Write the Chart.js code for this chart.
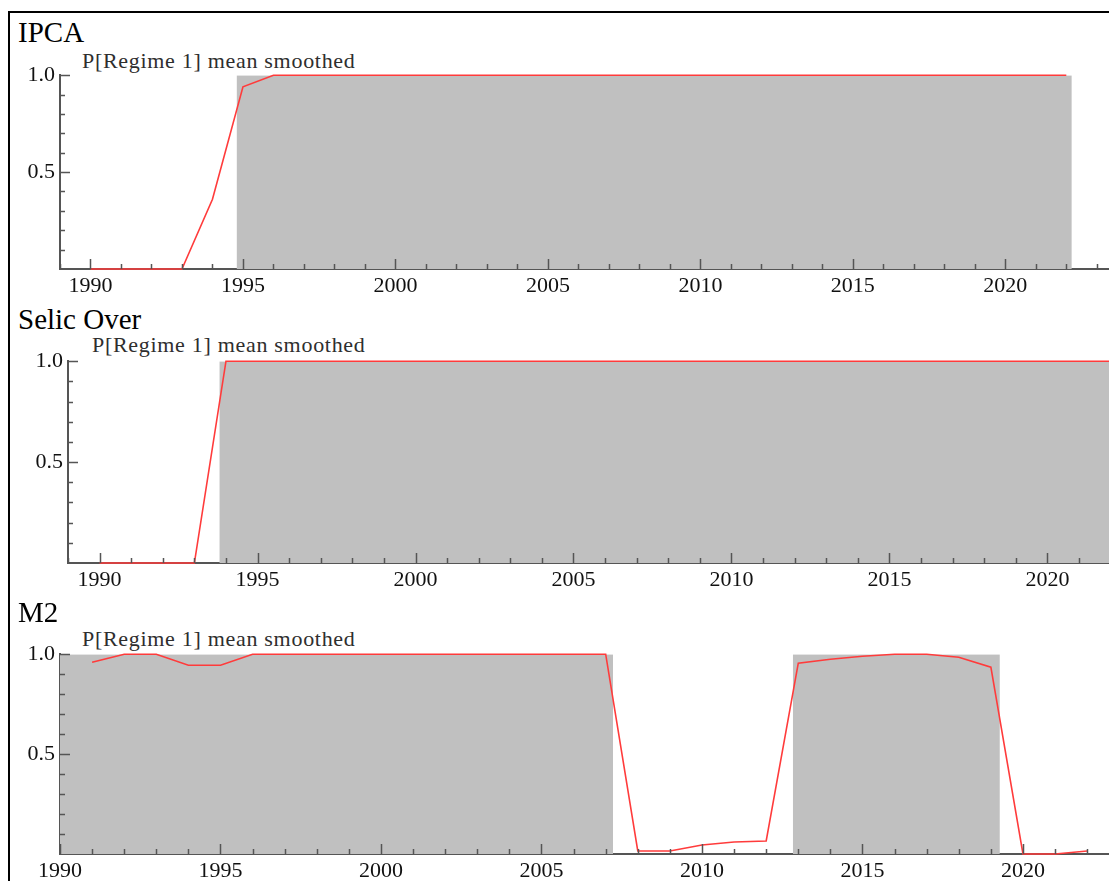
<!DOCTYPE html>
<html>
<head>
<meta charset="utf-8">
<script src="https://cdn.jsdelivr.net/npm/chart.js@4.4.1/dist/chart.umd.min.js"></script>
<style>
  body { margin: 0; background: #fff; width: 1109px; height: 881px; overflow: hidden; position: relative; font-family: "Liberation Serif", "Times New Roman", serif; }
  .frame { position: absolute; left: 8px; top: 11px; width: 1300px; height: 1000px; border-left: 2px solid #000; border-top: 2px solid #000; }
  .title { position: absolute; left: 18px; font-family: "Liberation Serif", serif; font-size: 29px; line-height: 1; color: #000; white-space: nowrap; }
  .sub { position: absolute; font-family: "Liberation Serif", serif; font-size: 22px; line-height: 1; letter-spacing: 0.7px; color: #2e2e2e; white-space: nowrap; }
  canvas { position: absolute; left: 0; }
</style>
</head>
<body>
<div class="frame"></div>

<div class="title" style="top:18px">IPCA</div>
<div class="sub" style="left:82px;top:50px">P[Regime 1] mean smoothed</div>
<canvas id="ipcaChart" width="1109" height="246" style="top:57px"></canvas>

<div class="title" style="top:305px">Selic Over</div>
<div class="sub" style="left:92px;top:334px">P[Regime 1] mean smoothed</div>
<canvas id="selicChart" width="1109" height="254" style="top:343px"></canvas>

<div class="title" style="top:598px">M2</div>
<div class="sub" style="left:82px;top:628px">P[Regime 1] mean smoothed</div>
<canvas id="m2Chart" width="1109" height="252" style="top:636px"></canvas>

<script>
// Annual smoothed probabilities of regime 1
const years = [1990, 1991, 1992, 1993, 1994, 1995, 1996, 1997, 1998, 1999, 2000,
  2001, 2002, 2003, 2004, 2005, 2006, 2007, 2008, 2009, 2010, 2011,
  2012, 2013, 2014, 2015, 2016, 2017, 2018, 2019, 2020, 2021, 2022];

const ipcaProb = [0, 0, 0, 0, 0.36, 0.94, 1, 1, 1, 1, 1,
  1, 1, 1, 1, 1, 1, 1, 1, 1, 1, 1,
  1, 1, 1, 1, 1, 1, 1, 1, 1, 1, 1];

const selicProb = [0, 0, 0, 0, 1, 1, 1, 1, 1, 1, 1,
  1, 1, 1, 1, 1, 1, 1, 1, 1, 1, 1,
  1, 1, 1, 1, 1, 1, 1, 1, 1, 1, 1];

const m2Years = [1991, 1992, 1993, 1994, 1995, 1996, 1997, 1998, 1999, 2000,
  2001, 2002, 2003, 2004, 2005, 2006, 2007, 2008, 2009, 2010, 2011,
  2012, 2013, 2014, 2015, 2016, 2017, 2018, 2019, 2020, 2021, 2022];

const m2Prob = [0.96, 1, 1, 0.945, 0.945, 1, 1, 1, 1, 1,
  1, 1, 1, 1, 1, 1, 1, 0.015, 0.015, 0.045, 0.06,
  0.065, 0.955, 0.975, 0.99, 1, 1, 0.985, 0.935, 0, 0, 0.015];

// shaded regime 1 periods [start, end]
const ipcaRegimes = [[1994.79, 2022.18]];
const selicRegimes = [[1993.79, 2022.5]];
const m2Regimes = [[1990, 2007.23], [2012.83, 2019.28]];

const xTickLabels = [1990, 1995, 2000, 2005, 2010, 2015, 2020];
const yTickLabels = [0.5, 1.0];

const axisColor = '#555';
const lineColor = '#ff3b3b';
const shadeColor = '#c0c0c0';

// ticks in this style point into the plot, so draw them ourselves
const innerTicks = {
  id: 'innerTicks',
  afterDatasetsDraw(chart) {
    const { ctx, scales: { x, y } } = chart;
    ctx.save();
    ctx.strokeStyle = axisColor;
    ctx.lineWidth = 1.5;
    ctx.beginPath();
    for (let v = Math.ceil(x.min); v <= x.max; v++) {
      const px = Math.round(x.getPixelForValue(v)) + 0.5;
      const len = v % 5 === 0 ? 10 : 5;
      ctx.moveTo(px, y.bottom);
      ctx.lineTo(px, y.bottom - len);
    }
    for (let k = 1; k <= 10; k++) {
      const py = Math.round(y.getPixelForValue(k / 10)) + 0.5;
      const len = k % 5 === 0 ? 10 : 5;
      ctx.moveTo(x.left, py);
      ctx.lineTo(x.left + len, py);
    }
    ctx.stroke();
    ctx.restore();
  }
};

function makePanel(id, xs, probs, regimes, xMin, xMax, axisWidth) {
  const datasets = [{
    data: xs.map((yr, i) => ({ x: yr, y: probs[i] })),
    borderColor: lineColor,
    borderWidth: 1.6,
    pointRadius: 0,
    fill: false,
    tension: 0,
    clip: false,
    order: 1
  }];
  regimes.forEach(r => {
    datasets.push({
      data: [{ x: r[0], y: 1 }, { x: r[1], y: 1 }],
      borderWidth: 0,
      pointRadius: 0,
      backgroundColor: shadeColor,
      fill: 'origin',
      order: 2
    });
  });

  const tickFont = { family: '"Liberation Serif", "Times New Roman", serif', size: 22 };

  return new Chart(document.getElementById(id), {
    type: 'line',
    data: { datasets: datasets },
    options: {
      responsive: false,
      animation: false,
      devicePixelRatio: 1,
      events: [],
      layout: { padding: { top: 4, left: 0, right: 0, bottom: 0 } },
      plugins: { legend: { display: false }, tooltip: { enabled: false } },
      scales: {
        x: {
          type: 'linear',
          min: xMin,
          max: xMax,
          grid: { display: false, drawTicks: false },
          border: { display: true, color: axisColor, width: 2 },
          afterBuildTicks: s => { s.ticks = xTickLabels.map(v => ({ value: v })); },
          afterFit: s => { s.height = 34; },
          ticks: { color: '#111', font: tickFont, padding: 4, maxRotation: 0, autoSkip: false, callback: v => String(v) }
        },
        y: {
          type: 'linear',
          min: 0,
          max: 1,
          grid: { display: false, drawTicks: false },
          border: { display: true, color: axisColor, width: 2 },
          afterBuildTicks: s => { s.ticks = yTickLabels.map(v => ({ value: v })); },
          afterFit: s => { s.width = axisWidth; },
          ticks: { color: '#111', font: tickFont, padding: 5, callback: v => v.toFixed(1) }
        }
      }
    },
    plugins: [innerTicks]
  });
}

makePanel('ipcaChart', years, ipcaProb, ipcaRegimes, 1989, 2023.4, 60);
makePanel('selicChart', years, selicProb, selicRegimes, 1989, 2021.95, 68);
makePanel('m2Chart', m2Years, m2Prob, m2Regimes, 1990, 2022.68, 60);
</script>
</body>
</html>
